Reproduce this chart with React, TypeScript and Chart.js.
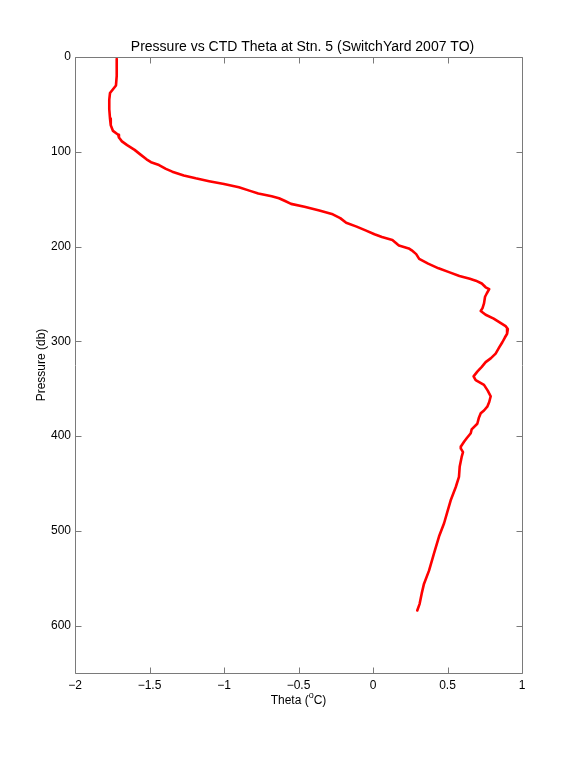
import React, { useEffect, useRef } from "react";
import { Chart, registerables } from "chart.js";

Chart.register(...registerables);

// Pressure (db) and potential temperature (°C) read from the profile
const pressure = [
  2, 10, 20, 30, 34, 38, 45, 55, 65, 72, 78, 82, 85, 89, 93, 98, 103, 108, 111, 114,
  118, 121, 125, 128, 131, 134, 137.5, 141, 144, 147, 149, 152, 155, 158, 162, 166, 170, 175, 179, 183,
  187, 190, 193, 197, 199, 202, 204, 208, 213, 218, 223, 227, 231, 234, 236, 239, 243, 245, 249, 253,
  260, 265, 268, 272, 276, 280, 284, 287, 292, 296, 301, 307, 313, 318, 322, 327, 332, 337, 341, 346,
  352, 358, 364, 369, 373, 376, 381, 387, 393, 397, 402, 406, 411, 413, 417, 422, 432, 443, 454, 468,
  480, 492, 506, 524, 542, 556, 566, 577, 584,
];
const theta = [
  -1.72, -1.72, -1.72, -1.725, -1.745, -1.765, -1.77, -1.77, -1.765, -1.76, -1.745, -1.71, -1.705, -1.685, -1.65, -1.6, -1.56, -1.52, -1.49, -1.436,
  -1.39, -1.347, -1.27, -1.19, -1.1, -1.0, -0.9, -0.83, -0.77, -0.68, -0.631, -0.59, -0.55, -0.46, -0.36, -0.27, -0.22, -0.18, -0.11, -0.05,
  0.01, 0.06, 0.13, 0.16, 0.174, 0.24, 0.26, 0.29, 0.31, 0.37, 0.44, 0.51, 0.58, 0.65, 0.69, 0.73, 0.756, 0.78, 0.765, 0.752,
  0.745, 0.735, 0.723, 0.756, 0.81, 0.85, 0.89, 0.905, 0.9, 0.885, 0.868, 0.845, 0.823, 0.79, 0.756, 0.73, 0.7, 0.675, 0.689, 0.745,
  0.77, 0.79, 0.78, 0.767, 0.745, 0.723, 0.71, 0.7, 0.662, 0.656, 0.63, 0.611, 0.59, 0.589, 0.604, 0.595, 0.582, 0.577, 0.555, 0.521,
  0.499, 0.477, 0.443, 0.409, 0.376, 0.342, 0.327, 0.313, 0.297,
];

const xTicks = [-2, -1.5, -1, -0.5, 0, 0.5, 1];
const yTicks = [0, 100, 200, 300, 400, 500, 600];
const xMin = -2;
const xMax = 1;
const yMin = 0;
const yMax = 650;

const chartTitle = "Pressure vs CTD Theta at Stn. 5 (SwitchYard 2007 TO)";
const yTitle = "Pressure (db)";
const xTitleParts = ["Theta (", "o", "C)"];

const FONT = "'Liberation Sans', Arial, Helvetica, sans-serif";

const fmt = (v: number) => String(v).replace("-", "\u2212");

const matlabFrame = {
  id: "matlabFrame",
  afterDraw(chart: any) {
    const { ctx, chartArea, scales } = chart;
    const { left, right, top, bottom } = chartArea;
    const xs = scales.x;
    const ys = scales.y;
    ctx.save();
    ctx.strokeStyle = "#7a7a7a";
    ctx.lineWidth = 1;
    const L = Math.round(left) + 0.5;
    const R = Math.round(right) + 0.5;
    const T = Math.round(top) + 0.5;
    const B = Math.round(bottom) + 0.5;
    ctx.beginPath();
    ctx.rect(L, T, R - L, B - T);
    const tl = 6;
    xTicks.forEach((v) => {
      const px = Math.round(xs.getPixelForValue(v)) + 0.5;
      ctx.moveTo(px, B);
      ctx.lineTo(px, B - tl);
      ctx.moveTo(px, T);
      ctx.lineTo(px, T + tl);
    });
    yTicks.forEach((v) => {
      const py = Math.round(ys.getPixelForValue(v)) + 0.5;
      ctx.moveTo(L, py);
      ctx.lineTo(L + tl, py);
      ctx.moveTo(R, py);
      ctx.lineTo(R - tl, py);
    });
    ctx.stroke();

    ctx.fillStyle = "#000";
    // Title
    ctx.font = `14px ${FONT}`;
    ctx.textAlign = "center";
    ctx.textBaseline = "middle";
    ctx.fillText(chartTitle, (left + right) / 2 + 4, 47);

    // Y title
    ctx.font = `12px ${FONT}`;
    ctx.save();
    ctx.translate(42, (top + bottom) / 2);
    ctx.rotate(-Math.PI / 2);
    ctx.fillText(yTitle, 0, 0);
    ctx.restore();

    // X title with superscript
    const normal = `12px ${FONT}`;
    const small = `9px ${FONT}`;
    ctx.font = normal;
    const w0 = ctx.measureText(xTitleParts[0]).width;
    const w2 = ctx.measureText(xTitleParts[2]).width;
    ctx.font = small;
    const w1 = ctx.measureText(xTitleParts[1]).width;
    const total = w0 + w1 + w2;
    let cx = (left + right) / 2 - total / 2;
    const ty = 701;
    ctx.textAlign = "left";
    ctx.font = normal;
    ctx.fillText(xTitleParts[0], cx, ty);
    cx += w0;
    ctx.font = small;
    ctx.fillText(xTitleParts[1], cx, ty - 5);
    cx += w1;
    ctx.font = normal;
    ctx.fillText(xTitleParts[2], cx, ty);
    ctx.restore();
  },
};

export default function App() {
  const ref = useRef<HTMLCanvasElement | null>(null);

  useEffect(() => {
    if (!ref.current) return;
    const data = pressure.map((p, i) => ({ x: theta[i], y: p }));
    const chart = new Chart(ref.current, {
      type: "scatter",
      data: {
        datasets: [
          {
            data,
            showLine: true,
            borderColor: "#ff0000",
            backgroundColor: "#ff0000",
            borderWidth: 2.6,
            borderJoinStyle: "round",
            borderCapStyle: "round",
            pointRadius: 0,
            pointHoverRadius: 0,
            tension: 0,
          },
        ],
      },
      options: {
        animation: false,
        responsive: false,
        devicePixelRatio: 1,
        events: [],
        layout: { padding: { top: 57, right: 55, left: 0, bottom: 0 } },
        plugins: {
          legend: { display: false },
          title: { display: false },
          tooltip: { enabled: false },
        },
        scales: {
          x: {
            type: "linear",
            min: xMin,
            max: xMax,
            grid: { display: false, drawTicks: false },
            border: { display: false },
            afterBuildTicks: (s: any) => {
              s.ticks = xTicks.map((v) => ({ value: v }));
            },
            afterFit: (s: any) => {
              s.height = 84;
            },
            ticks: {
              padding: 5,
              color: "#000",
              font: { family: FONT, size: 12 },
              maxRotation: 0,
              callback: (v: any) => fmt(Number(v)),
            },
          },
          y: {
            type: "linear",
            reverse: true,
            min: yMin,
            max: yMax,
            grid: { display: false, drawTicks: false },
            border: { display: false },
            afterBuildTicks: (s: any) => {
              s.ticks = yTicks.map((v) => ({ value: v }));
            },
            afterFit: (s: any) => {
              s.width = 75;
            },
            ticks: {
              padding: 4,
              color: "#000",
              font: { family: FONT, size: 12 },
              callback: (v: any) => fmt(Number(v)),
            },
          },
        },
      },
      plugins: [matlabFrame],
    });
    return () => chart.destroy();
  }, []);

  return (
    <div style={{ position: "absolute", left: 0, top: 0, width: 577, height: 757, background: "#fff" }}>
      <canvas ref={ref} width={577} height={757} style={{ display: "block" }} />
    </div>
  );
}
